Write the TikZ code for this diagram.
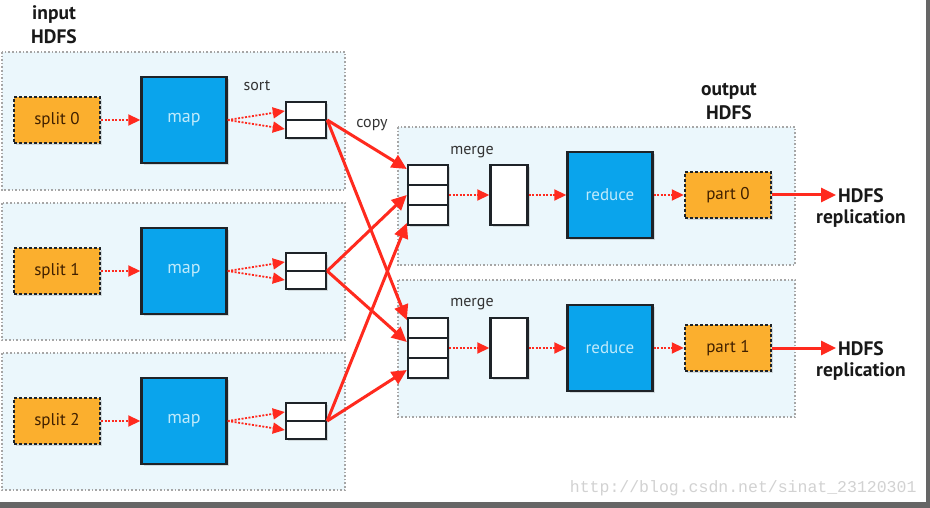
\documentclass[tikz,border=0pt]{standalone}
\usepackage{fontspec}
\setmainfont{PT Sans}
\newfontfamily\wmfont{Liberation Mono}
\usetikzlibrary{arrows.meta,shadows,calc}
\definecolor{boxorange}{HTML}{FBAF2E}
\definecolor{mapblue}{HTML}{0AA4EC}
\definecolor{zonefill}{HTML}{EBF7FC}
\definecolor{arrred}{HTML}{FF2A1E}
\definecolor{edgedark}{HTML}{1E2328}
\tikzset{
  zone/.style={draw=gray!70, dotted, line width=1.6pt, fill=zonefill},
  shad/.style={drop shadow={opacity=0.25, shadow xshift=2pt, shadow yshift=-2pt}},
  splitbox/.style={shad, draw=edgedark, dashed, dash pattern=on 3pt off 2pt, line width=2.4pt, fill=boxorange,
    minimum width=86pt, minimum height=46pt, inner sep=0pt, text=black!75!orange, font=\fontsize{17}{20}\selectfont},
  mapbox/.style={shad, draw=edgedark, line width=2.4pt, fill=mapblue, minimum width=85pt, minimum height=86pt,
    inner sep=0pt, text=cyan!25, font=\fontsize{18}{20}\selectfont},
  bufbox/.style={shad, draw=edgedark, line width=2.4pt, fill=white, inner sep=0pt},
  lbl/.style={font=\fontsize{16}{18}\selectfont, text=black!80},
  hdfs/.style={font=\bfseries\fontsize{19.5}{20}\selectfont, inner sep=0pt, text=black!90},
  dotarr/.style={draw=arrred, line width=1.8pt, dash pattern=on 2pt off 1.5pt, -{Triangle[length=12pt,width=11pt]}},
  copyarr/.style={draw=arrred, line width=3pt, -{Triangle[length=15pt,width=14pt]}},
}
\begin{document}
\begin{tikzpicture}[x=1pt,y=-1pt]
\fill[white] (0,0) rectangle (930,508);
\useasboundingbox (0,0) rectangle (930,508);
% frame
\fill[gray!80!black] (0,502) rectangle (930,508);
\fill[gray!80!black] (926,0) rectangle (930,508);
% zones
\path[zone] (2,52) rectangle (345,190);
\path[zone] (2,203) rectangle (345,340);
\path[zone] (2,353) rectangle (345,490);
\path[zone] (398,127) rectangle (795,265);
\path[zone] (398,280) rectangle (795,417);
% labels
\node[hdfs] (inlbl1) at (54,15) {input};
\node[hdfs] (inlbl2) at (54,37) {HDFS};
\node[hdfs] (outlbl1) at (729,91) {output};
\node[hdfs] (outlbl2) at (729,113) {HDFS};
\node[lbl] (sortlbl) at (257,86) {sort};
\node[lbl] (copylbl) at (372,125) {copy};
\node[lbl] (mergeA) at (472,152) {merge};
\node[lbl] (mergeB) at (472,304) {merge};
% map side
\foreach \i/\y in {0/120,1/271,2/421}{
  \node[splitbox] (s\i) at (57,\y) {split \i};
  \node[mapbox] (m\i) at (184,\y) {map};
  \node[bufbox, minimum width=40pt, minimum height=36pt] (b\i) at (306,\y) {};
  \draw[edgedark, line width=2pt] (b\i.west) -- (b\i.east);
  \draw[dotarr] (s\i) -- (m\i);
  \draw[dotarr] (m\i.east) -- ([yshift=9pt]b\i.west);
  \draw[dotarr] (m\i.east) -- ([yshift=-9pt]b\i.west);
}
% reduce side
\foreach \j/\y in {A/195,B/348}{
  \node[bufbox, minimum width=40pt, minimum height=60pt] (g\j) at (428,\y) {};
  \draw[edgedark, line width=2pt] ($(g\j.north west)!1/3!(g\j.south west)$) -- ($(g\j.north east)!1/3!(g\j.south east)$);
  \draw[edgedark, line width=2pt] ($(g\j.north west)!2/3!(g\j.south west)$) -- ($(g\j.north east)!2/3!(g\j.south east)$);
  \node[bufbox, minimum width=37pt, minimum height=60pt] (w\j) at (509,\y) {};
  \node[mapbox, font=\fontsize{17}{20}\selectfont] (r\j) at (610,\y) {reduce};
  \draw[dotarr] (g\j) -- (w\j);
  \draw[dotarr] (w\j) -- (r\j);
}
\node[splitbox] (pA) at (728,195) {part 0};
\node[splitbox] (pB) at (728,348) {part 1};
\draw[dotarr] (rA) -- (pA);
\draw[dotarr] (rB) -- (pB);
\node[hdfs] (hA1) at (861,196) {HDFS};
\node[hdfs] (hA2) at (861,219) {replication};
\node[hdfs] (hB1) at (861,349) {HDFS};
\node[hdfs] (hB2) at (861,372) {replication};
\coordinate (eA) at (836,195);
\coordinate (eB) at (836,348);
\draw[copyarr] (pA) -- (eA);
\draw[copyarr] (pB) -- (eB);
% copy arrows
\draw[copyarr] (b0.east) -- ([yshift=26pt]gA.west);
\draw[copyarr] (b1.east) -- (gA.west);
\draw[copyarr] (b2.east) -- ([yshift=-28pt]gA.west);
\draw[copyarr] (b0.east) -- ([yshift=28pt]gB.west);
\draw[copyarr] (b1.east) -- ([yshift=6pt]gB.west);
\draw[copyarr] (b2.east) -- ([yshift=-22pt]gB.west);
% watermark
\node[anchor=east, text=gray!35, font=\wmfont\fontsize{16.5}{18}\selectfont] (wm) at (920,488) {http://blog.csdn.net/sinat\_23120301};
\end{tikzpicture}
\end{document}
